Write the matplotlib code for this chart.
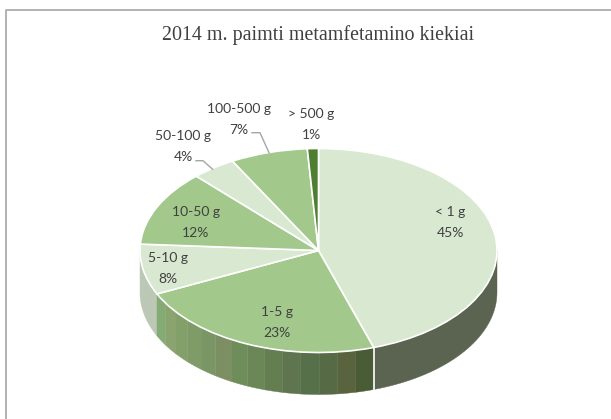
# 2014 seized methamphetamine amounts - 3D looking pie
import matplotlib
matplotlib.use('Agg')
import matplotlib.pyplot as plt
import numpy as np

title = '2014 m. paimti metamfetamino kiekiai'
categories = ['< 1 g', '1-5 g', '5-10 g', '10-50 g', '50-100 g', '100-500 g', '> 500 g']
shares = [45, 23, 8, 12, 4, 7, 1]
top_colors = ['#d9e8d1', '#a2c98b', '#d9e8d1', '#a2c98b', '#d9e8d1', '#a2c98b', '#4e7f30']

# colours of the rim left to right for the 1-5 g slice
rim_colors = ['#85ab74', '#8aa36f', '#84a06a', '#7f9b68', '#7a9664', '#7b8f62', '#6f8d5a',
              '#6b8657', '#647e52', '#5f7550', '#56704a', '#566a45', '#59643f', '#4a5c35']
rim_big = '#5a6450'
rim_small = '#bcc8b6'

W, H = 611, 419
CX, CY, RX, RY = 318.5, 250.5, 178.5, 102
DEPTH = 42 / RY

fig = plt.figure(figsize=(W / 100, H / 100), dpi=100)

# pixel overlay for frame and labels
bg = fig.add_axes([0, 0, 1, 1], zorder=0)
bg.set_xlim(0, W)
bg.set_ylim(H, 0)
bg.axis('off')
bg.plot([6, 6, W], [H, 10, 10], color='#a6a6a6', lw=1.2)
bg.text(318, 35, title, ha='center', va='center', color='#404040',
        fontsize=14.4, family='Liberation Serif')

# the pie itself is a unit circle squashed by the axes
ax = fig.add_axes([(CX - RX) / W, 1 - (CY + RY) / H, 2 * RX / W, 2 * RY / H], zorder=1)
wedges, _ = ax.pie(shares, colors=top_colors, startangle=90, counterclock=False, radius=1,
                   wedgeprops={'edgecolor': 'white', 'linewidth': 1.2, 'zorder': 3})
for w in wedges:
    w.set_clip_on(False)
ax.set_aspect('auto')
ax.set_xlim(-1, 1)
ax.set_ylim(-1, 1)
ax.axis('off')


def rim(a0, a1, color, zorder=1):
    # a0, a1 clockwise from the top, in degrees
    t = np.radians(np.linspace(a0, a1, 40))
    x = np.sin(t)
    y = np.cos(t)
    ax.fill(np.r_[x, x[::-1]], np.r_[y, y[::-1] - DEPTH], color=color, lw=0.3,
            zorder=zorder, clip_on=False)


edges = np.cumsum([0] + shares) * 3.6
rim(90, edges[1], rim_big)
rim(edges[2], 270, rim_small)
steps = np.linspace(edges[1], edges[2], len(rim_colors) + 1)
for i, c in enumerate(rim_colors):
    # rim_colors run left to right, angles run right to left
    rim(steps[i], steps[i + 1], rim_colors[::-1][i])

# white seam between the two big rim parts
t = np.radians(edges[1])
ax.plot([np.sin(t)] * 2, [np.cos(t), np.cos(t) - DEPTH], color='white', lw=1.2, zorder=2,
        clip_on=False)

# labels on top of everything
fg = fig.add_axes([0, 0, 1, 1], zorder=2)
fg.set_xlim(0, W)
fg.set_ylim(H, 0)
fg.axis('off')
fg.patch.set_alpha(0)

label_xy = [(450, 222), (277, 322), (168, 268), (196, 222), (183, 146), (239, 119), (311, 124)]
for name, val, (x, y) in zip(categories, shares, label_xy):
    fg.text(x, y, f'{name}\n{val}%', ha='center', va='center', color='#404040',
            fontsize=10, family='Lato', linespacing=1.9)

# leader lines
fg.plot([196, 203, 212.7], [160.7, 160.7, 169.3], color='#a6a6a6', lw=1)
fg.plot([252, 260, 269], [132.7, 132.7, 152.7], color='#a6a6a6', lw=1)

fig.savefig('out.png', dpi=100)
